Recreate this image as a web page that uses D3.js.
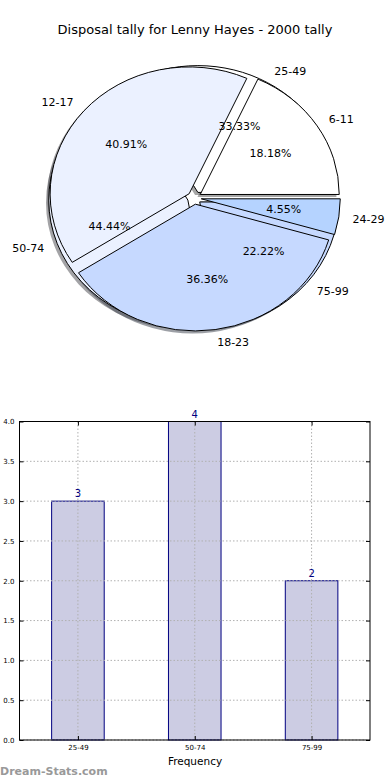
<!DOCTYPE html>
<html>
<head>
<meta charset="utf-8">
<script src="https://cdnjs.cloudflare.com/ajax/libs/d3/7.8.5/d3.min.js"></script>
<style>
  body { margin: 0; background: #fff; }
  svg { display: block; font-family: "DejaVu Sans", sans-serif; }
</style>
</head>
<body>
<svg id="chart" width="390" height="780"></svg>
<script>
// age groups for the first pie (tally of disposals)
var groupsA = ["6-11", "12-17", "18-23", "24-29"],
	countsA = [4, 9, 8, 1];
// second pie and bar chart
var groupsB = ["25-49", "50-74", "75-99"],
	countsB = [3, 4, 2];
var yTicks = [0, 0.5, 1, 1.5, 2, 2.5, 3, 3.5, 4];
var pieColours = ["#ffffff", "#ebf1ff", "#c6d9ff", "#b5d3ff"];

(function() {

var svg = d3.select('#chart');

// ---------- pie ----------
var cx = 194.4, cy = 197.9, rx = 139, ry = 126.8,
	explode = 0.05, labelDist = 1.1, pctDist = 0.6;

svg.append('text')
	.attr('x', 195).attr('y', 34)
	.attr('text-anchor', 'middle')
	.style('font-size', '13px')
	.text('Disposal tally for Lenny Hayes - 2000 tally');

// matplotlib style: start at 3 o'clock, go counter-clockwise
var pie = d3.pie().sort(null).startAngle(Math.PI / 2).endAngle(Math.PI / 2 - 2 * Math.PI);
var arc = d3.arc().innerRadius(0).outerRadius(1);

var pieB = pie(countsB).map(function(d, i) { d.label = groupsB[i]; d.colour = pieColours[i]; return d; });
var pieA = pie(countsA).map(function(d, i) { d.label = groupsA[i]; d.colour = pieColours[i]; return d; });
var allSlices = pieB.concat(pieA);

var mid = function(d) { return (d.startAngle + d.endAngle) / 2; };
var ux = function(d) { return Math.sin(mid(d)); };
var uy = function(d) { return -Math.cos(mid(d)); };
var sumA = d3.sum(countsA), sumB = d3.sum(countsB);

var pieG = svg.append('g')
	.attr('transform', 'translate(' + cx + ',' + cy + ') scale(' + rx + ',' + ry + ')');

// shadows under every wedge
pieG.selectAll('.shadow').data(allSlices).enter()
	.append('path')
		.attr('class', 'shadow')
		.attr('transform', function(d) { return 'translate(' + (explode * ux(d) - 0.02) + ',' + (explode * uy(d) + 0.02) + ')'; })
		.attr('d', arc)
		.attr('fill', function(d) { var c = d3.rgb(d.colour); return d3.rgb(c.r * 0.3, c.g * 0.3, c.b * 0.3); })
		.attr('fill-opacity', 0.5);

pieG.selectAll('.wedge').data(allSlices).enter()
	.append('path')
		.attr('class', 'wedge')
		.attr('transform', function(d) { return 'translate(' + explode * ux(d) + ',' + explode * uy(d) + ')'; })
		.attr('d', arc)
		.attr('fill', function(d) { return d.colour; })
		.attr('stroke', '#000')
		.attr('stroke-width', 1)
		.attr('vector-effect', 'non-scaling-stroke');

var fmt = d3.format('.2f');
var addLabels = function(slices, total) {
	svg.selectAll(null).data(slices).enter()
		.append('text')
			.attr('x', function(d) { return cx + (explode + labelDist) * rx * ux(d); })
			.attr('y', function(d) { return cy + (explode + labelDist) * ry * uy(d); })
			.attr('dy', '0.35em')
			.attr('text-anchor', function(d) { return ux(d) > 0 ? 'start' : 'end'; })
			.style('font-size', '11px')
			.text(function(d) { return d.label; });
	svg.selectAll(null).data(slices).enter()
		.append('text')
			.attr('x', function(d) { return cx + (explode + pctDist) * rx * ux(d); })
			.attr('y', function(d) { return cy + (explode + pctDist) * ry * uy(d); })
			.attr('dy', '0.35em')
			.attr('text-anchor', 'middle')
			.style('font-size', '11px')
			.text(function(d) { return fmt(d.value / total * 100) + '%'; });
};
addLabels(pieB, sumB);
addLabels(pieA, sumA);

// ---------- bars ----------
var plotLeft = 19.5, plotRight = 370, plotTop = 421.5, plotBottom = 740;

var x = d3.scaleBand().domain(groupsB).range([plotLeft, plotRight]).paddingInner(0.55).paddingOuter(0.275);
var y = d3.scaleLinear().domain([0, 4]).range([plotBottom, plotTop]);
var xc = function(d) { return x(d) + x.bandwidth() / 2; };
var xPos = d3.scaleOrdinal().domain(groupsB).range(groupsB.map(xc));

var bars = svg.append('g');

bars.selectAll('.bar').data(countsB).enter()
	.append('rect')
		.attr('class', 'bar')
		.attr('x', function(d, i) { return x(groupsB[i]); })
		.attr('y', function(d) { return y(d); })
		.attr('width', x.bandwidth())
		.attr('height', function(d) { return plotBottom - y(d); })
		.attr('fill', '#ccccE3')
		.attr('stroke', '#000080')
		.attr('stroke-width', 1);

// dotted grid on top of bars
bars.selectAll('.hgrid').data(yTicks).enter()
	.append('line')
		.attr('x1', plotLeft).attr('x2', plotRight)
		.attr('y1', function(d) { return y(d); }).attr('y2', function(d) { return y(d); })
		.attr('stroke', '#b0b0b0').attr('stroke-dasharray', '1.5,2');
bars.selectAll('.vgrid').data(groupsB).enter()
	.append('line')
		.attr('x1', xc).attr('x2', xc)
		.attr('y1', plotTop).attr('y2', plotBottom)
		.attr('stroke', '#b0b0b0').attr('stroke-dasharray', '1.5,2');

svg.append('g')
	.attr('transform', 'translate(' + plotLeft + ',0)')
	.call(d3.axisLeft(y).tickValues(yTicks).tickFormat(d3.format('.1f')).tickSize(-4).tickPadding(5))
	.call(function(g) { g.select('.domain').remove(); g.selectAll('text').style('font-size', '7px'); g.attr('font-family', null); });
svg.append('g')
	.attr('transform', 'translate(' + plotRight + ',0)')
	.call(d3.axisRight(y).tickValues(yTicks).tickSize(-4).tickFormat(''))
	.call(function(g) { g.select('.domain').remove(); });
svg.append('g')
	.attr('transform', 'translate(0,' + plotBottom + ')')
	.call(d3.axisBottom(xPos).tickSize(-4).tickPadding(5))
	.call(function(g) { g.select('.domain').remove(); g.selectAll('text').style('font-size', '7px'); g.attr('font-family', null); });
svg.append('g')
	.attr('transform', 'translate(0,' + plotTop + ')')
	.call(d3.axisTop(xPos).tickSize(-4).tickFormat(''))
	.call(function(g) { g.select('.domain').remove(); });

svg.append('rect')
	.attr('x', plotLeft).attr('y', plotTop)
	.attr('width', plotRight - plotLeft).attr('height', plotBottom - plotTop)
	.attr('fill', 'none').attr('stroke', '#000').attr('stroke-width', 1);

// value labels
svg.selectAll('.val').data(countsB).enter()
	.append('text')
		.attr('x', function(d, i) { return xc(groupsB[i]); })
		.attr('y', function(d) { return y(d) - 4; })
		.attr('text-anchor', 'middle')
		.attr('fill', '#000080')
		.style('font-size', '10px')
		.text(function(d) { return d; });

svg.append('text')
	.attr('x', 195).attr('y', 765)
	.attr('text-anchor', 'middle')
	.style('font-size', '10.5px')
	.text('Frequency');

svg.append('text')
	.attr('x', 0).attr('y', 775)
	.attr('fill', '#999')
	.style('font-size', '11px')
	.style('font-weight', 'bold')
	.text('Dream-Stats.com');

})();
</script>
</body>
</html>
